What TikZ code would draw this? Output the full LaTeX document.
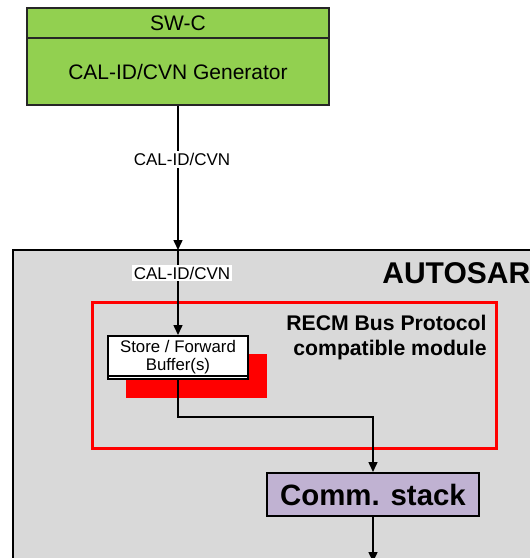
\documentclass[tikz,border=0pt]{standalone}
\usepackage{fontspec}
\setmainfont{Liberation Sans}
\usetikzlibrary{shapes}
\usetikzlibrary{arrows.meta}
\usetikzlibrary{positioning}

\definecolor{swgreen}{RGB}{146,208,80}
\definecolor{osgray}{RGB}{217,217,217}
\definecolor{stacklilac}{RGB}{192,178,210}

\tikzset{
  swbox/.style={draw=black!85, line width=1pt, fill=swgreen, minimum width=151pt,
    inner sep=0pt, font=\fontsize{10.5}{12}\selectfont},
  flow/.style={-{Triangle[length=5pt,width=4.5pt]}, line width=0.75pt},
  tag/.style={fill=white, inner sep=1pt, xshift=2pt, font=\fontsize{8.5}{10}\selectfont},
}

\begin{document}
\begin{tikzpicture}[x=0.5pt,y=-0.5pt]
\clip (0,0) rectangle (530,558);
%
\node[swbox, minimum height=15pt] (swc) at (178,23) {SW-C};
\node[swbox, minimum height=33.5pt, below=-1pt of swc] (gen) {CAL-ID/CVN Generator};
%
\draw[fill=osgray, line width=0.75pt] (13,250) rectangle (560,590);
\node[anchor=west, inner sep=0pt, font=\bfseries\fontsize{15}{18}\selectfont] (autosar) at (382,273) {AUTOSAR};
%
\node[draw=red, line width=1.5pt, minimum width=202pt, minimum height=73pt] (recm) at (294,375) {};
\node[anchor=north east, align=right, inner sep=0pt, font=\bfseries\fontsize{10.6}{12.5}\selectfont]
    (recmtext) at (487,315) {RECM Bus Protocol\\compatible module};
%
\node[fill=red, minimum width=70.5pt, minimum height=22pt, inner sep=0pt] (bufshade) at (196.5,376) {};
\node[draw, fill=white, line width=1pt, minimum width=70pt, minimum height=21.5pt, inner sep=0pt,
    align=center, font=\fontsize{8.4}{9}\selectfont] (buffer) at (178,357.5) {Store / Forward\\Buffer(s)};
\draw[line width=1pt] ([yshift=2pt]buffer.south west) -- ([yshift=2pt]buffer.south east);
%
\node[draw, fill=stacklilac, line width=1pt, minimum width=106pt, minimum height=21.5pt, inner sep=0pt,
    font=\bfseries\fontsize{14.7}{17}\selectfont] (comm) at (373,494.5) {\raisebox{-1pt}{Comm. stack}};
%
\coordinate (entry) at (178,250);
\coordinate (exit) at (373,562);
\draw[flow] (gen.south) -- node[tag, pos=0.37] (tagtop) {CAL-ID/CVN} (entry);
\draw[flow] (entry) -- node[tag, pos=0.27] (taginner) {CAL-ID/CVN} (buffer.north);
\draw[flow] (buffer.south) -- ++(0,37) -| (comm.north);
\draw[flow] (comm.south) -- (exit);
\end{tikzpicture}
\end{document}
